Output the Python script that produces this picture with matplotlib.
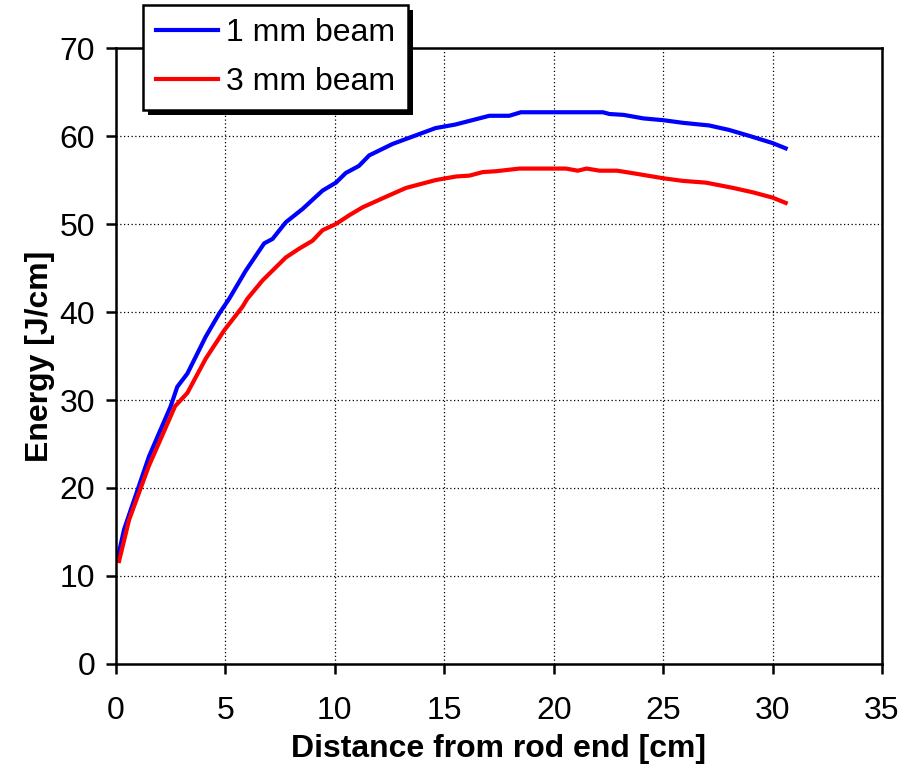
import matplotlib
matplotlib.use('Agg')
import matplotlib.pyplot as plt
from matplotlib.patches import Rectangle

plt.rcParams['font.family'] = ['Liberation Sans', 'DejaVu Sans']

# 1 mm beam
x_1mm = [0.1, 0.37, 1.51, 2.5, 2.8, 3.26, 4.1, 4.71, 5.17, 5.93, 6.77, 7.15, 7.76,
         8.52, 9.44, 10.05, 10.5, 11.1, 11.57, 12.64, 13.4, 14.6, 15.5, 17.06,
         17.97, 18.5, 22.25, 22.55, 23.2, 24.1, 25.0, 25.9, 27.1, 28.0, 28.96,
         30.0, 30.6]
e_1mm = [12.3, 15.3, 23.6, 29.3, 31.5, 33.0, 37.2, 39.8, 41.5, 44.7, 47.8, 48.3, 50.2,
         51.7, 53.8, 54.7, 55.8, 56.6, 57.8, 59.1, 59.8, 60.9, 61.3, 62.3,
         62.3, 62.7, 62.7, 62.5, 62.4, 62.0, 61.8, 61.5, 61.2, 60.7, 60.0,
         59.2, 58.6]

# 3 mm beam
x_3mm = [0.14, 0.6, 1.5, 2.7, 3.26, 4.1, 4.94, 5.78, 6.0, 6.7, 7.76, 8.37, 8.98,
         9.44, 10.05, 10.66, 11.27, 12.34, 13.25, 14.62, 15.54, 16.15, 16.76,
         17.37, 18.43, 20.56, 21.1, 21.5, 22.1, 22.9, 23.8, 25.0, 25.9, 26.96,
         28.2, 29.1, 30.0, 30.6]
e_3mm = [11.7, 16.4, 22.5, 29.3, 30.8, 34.7, 37.9, 40.6, 41.5, 43.6, 46.2, 47.2, 48.1,
         49.3, 50.0, 51.0, 51.9, 53.1, 54.1, 55.0, 55.4, 55.5, 55.9,
         56.0, 56.3, 56.3, 56.06, 56.3, 56.06, 56.06, 55.7, 55.2, 54.9, 54.7,
         54.1, 53.6, 53.0, 52.4]

fig = plt.figure(figsize=(9.07, 7.67), dpi=100)
ax = fig.add_axes([0.1279, 0.1343, 0.8445, 0.8031])

l1, = ax.plot(x_1mm, e_1mm, color='#0000ff', lw=3.0, label='1 mm beam')
l2, = ax.plot(x_3mm, e_3mm, color='#ff0000', lw=3.0, label='3 mm beam')

ax.set_xlim(0, 35)
ax.set_ylim(0, 70)
ax.set_xticks(range(0, 36, 5))
ax.set_yticks(range(0, 71, 10))
ax.grid(True, color='black', linestyle=(0, (1, 2)), linewidth=0.9)
ax.set_axisbelow(True)
for s in ax.spines.values():
    s.set_linewidth(1.8)
ax.tick_params(axis='both', direction='out', length=7, width=1.8, labelsize=23)
ax.tick_params(axis='x', pad=16)
ax.tick_params(axis='y', pad=8)

ax.set_xlabel('Distance from rod end [cm]', fontsize=23, fontweight='bold', labelpad=6)
ax.set_ylabel('Energy [J/cm]', fontsize=23, fontweight='bold', labelpad=3)

leg = fig.legend(handles=[l1, l2], loc='upper left', bbox_to_anchor=(143 / 907, 1 - 5 / 767),
                 borderaxespad=0, fancybox=False, edgecolor='black', fontsize=23,
                 handlelength=1.95, handletextpad=0.25, borderpad=0.4, labelspacing=0.6,
                 framealpha=1)
leg.get_frame().set_linewidth(1.8)
leg.set_zorder(5)

fig.canvas.draw()
bb = leg.get_window_extent()
fig.patches.append(Rectangle((bb.x0 + 5, bb.y0 - 5), bb.width, bb.height, transform=None,
                             facecolor='black', edgecolor='none', zorder=4.5, figure=fig))

fig.savefig('out.png', dpi=100)
